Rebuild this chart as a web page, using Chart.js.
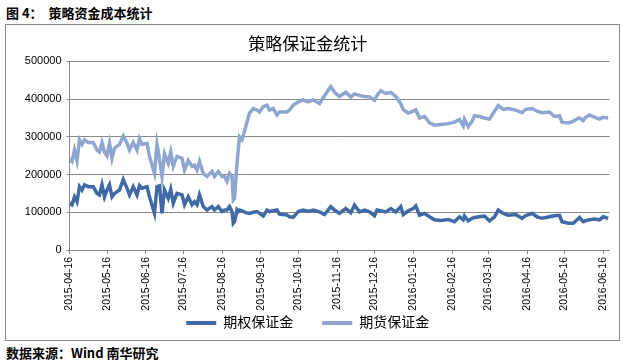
<!DOCTYPE html>
<html>
<head>
<meta charset="utf-8">
<script src="https://cdn.jsdelivr.net/npm/chart.js@4.4.1/dist/chart.umd.min.js"></script>
<style>
  body { margin: 0; background: #fff; width: 623px; height: 362px; position: relative; overflow: hidden; }
  .cap { position: absolute; left: 6px; font: bold 13px "Noto Sans CJK SC", sans-serif; color: #000; }
  #box { position: absolute; left: 5px; top: 24px; width: 613px; height: 315px; border: 1px solid #888; }
  canvas { display: block; }
</style>
</head>
<body>
<div class="cap" style="top:3px">图 4：&nbsp;&nbsp;策略资金成本统计</div>
<div id="box"><canvas id="chart" width="613" height="315"></canvas></div>
<div class="cap" style="top:343px">数据来源：Wind 南华研究</div>
<script>
// day offsets from 2015-04-16
var dayOffsets = [0,2,4,6,8,10,12,15,19,22,24,26,28,30,32,34,36,40,43,46,48,51,54,56,58,62,64,68,70,72,74,76,79,81,83,86,90,92,95,98,100,102,104,107,110,114,116,119,122,124,126,128,130,131,132,134,135,136,138,141,144,147,150,152,155,158,160,163,166,168,174,176,179,183,187,191,195,200,204,209,212,216,221,225,228,232,236,240,244,246,249,253,257,261,265,267,271,275,277,280,284,288,292,297,303,308,312,315,316,319,322,324,328,332,336,340,343,347,351,357,362,365,370,374,378,384,388,392,394,399,403,405,408,411,413,416,420,424,427,431];

var optionMargin = [124000,120000,141000,128000,168000,159000,173000,168000,168000,150000,146000,173000,141000,159000,173000,141000,150000,159000,187000,164000,146000,168000,146000,171000,164000,168000,141000,97000,168000,170000,97000,159000,137000,161000,124000,150000,146000,120000,141000,120000,128000,120000,146000,115000,106000,115000,106000,115000,102000,106000,106000,115000,102000,71000,75000,106000,102000,106000,104000,99000,97000,100000,102000,97000,90000,106000,102000,104000,106000,95000,93000,88000,87000,102000,106000,102000,106000,101000,94000,115000,106000,97000,110000,99000,119000,101000,106000,101000,91000,106000,104000,101000,110000,101000,115000,94000,104000,110000,117000,92000,97000,88000,80000,78000,81000,75000,88000,80000,90000,77000,84000,86000,88000,90000,77000,88000,106000,97000,92000,94000,84000,91000,97000,88000,84000,88000,91000,92000,75000,71000,71000,77000,86000,75000,78000,80000,82000,80000,88000,84000];

var futuresMargin = [243000,235000,265000,237000,292000,280000,292000,285000,285000,265000,260000,285000,260000,250000,283000,243000,270000,280000,302000,283000,265000,285000,265000,295000,280000,283000,248000,203000,280000,240000,195000,255000,230000,260000,222000,248000,243000,212000,237000,222000,225000,212000,235000,203000,195000,208000,195000,208000,195000,195000,182000,203000,195000,133000,137000,230000,265000,300000,292000,327000,363000,375000,371000,366000,380000,384000,371000,375000,358000,366000,366000,371000,384000,393000,398000,393000,398000,388000,409000,433000,418000,407000,418000,406000,414000,410000,407000,406000,397000,410000,422000,415000,418000,407000,388000,372000,363000,368000,372000,350000,354000,337000,331000,333000,335000,339000,346000,329000,347000,327000,341000,356000,354000,350000,347000,368000,383000,373000,375000,371000,364000,373000,375000,368000,364000,366000,354000,356000,339000,337000,341000,346000,350000,343000,352000,358000,352000,347000,352000,350000];

var tickLabels = ['2015-04-16','2015-05-16','2015-06-16','2015-07-16','2015-08-16','2015-09-16','2015-10-16','2015-11-16','2015-12-16','2016-01-16','2016-02-16','2016-03-16','2016-04-16','2016-05-16','2016-06-16'];

var seriesNames = ['期权保证金', '期货保证金'];

var base = Date.UTC(2015, 3, 16);
function toOffset(s) {
  var p = s.split('-');
  return Math.round((Date.UTC(+p[0], +p[1] - 1, +p[2]) - base) / 86400000);
}
var tickOffsets = tickLabels.map(toOffset);

function pts(vals) {
  return dayOffsets.map(function (d, i) { return { x: d, y: vals[i] }; });
}

var cjk = '"Liberation Sans", "Noto Sans CJK SC", sans-serif';

var ctx = document.getElementById('chart').getContext('2d');
var myChart = new Chart(ctx, {
  type: 'line',
  data: {
    datasets: [{
      label: seriesNames[0],
      data: pts(optionMargin),
      borderColor: '#3f6aa5',
      backgroundColor: '#3f6aa5',
      borderWidth: 3.5,
      pointRadius: 0,
      tension: 0
    }, {
      label: seriesNames[1],
      data: pts(futuresMargin),
      borderColor: '#8ea6d0',
      backgroundColor: '#8ea6d0',
      borderWidth: 3.5,
      pointRadius: 0,
      tension: 0
    }]
  },
  options: {
    responsive: false,
    animation: false,
    devicePixelRatio: 1,
    layout: { padding: { left: 0, right: 9.5, top: 0, bottom: 0 } },
    plugins: {
      title: {
        display: true,
        text: '策略保证金统计',
        color: '#000',
        font: { family: cjk, size: 17, weight: 'normal' },
        padding: { top: 10, bottom: 6 }
      },
      legend: {
        position: 'bottom',
        labels: {
          color: '#000',
          font: { family: cjk, size: 14 },
          boxWidth: 30,
          boxHeight: 4,
          padding: 29,
          generateLabels: function (chart) {
            var items = Chart.defaults.plugins.legend.labels.generateLabels(chart);
            items.forEach(function (it) { it.lineWidth = 0; it.fillStyle = it.strokeStyle; });
            return items;
          }
        }
      },
      tooltip: { enabled: false }
    },
    scales: {
      x: {
        type: 'linear',
        min: 0,
        max: 432,
        afterBuildTicks: function (scale) {
          scale.ticks = tickOffsets.map(function (v) { return { value: v }; });
        },
        afterFit: function (scale) {
          scale.height = 37;
          // let the rotated date labels run past the short axis box
          scale._computeLabelArea = function () { return undefined; };
        },
        ticks: {
          autoSkip: false,
          minRotation: 90,
          maxRotation: 90,
          padding: 3,
          color: '#000',
          font: { family: cjk, size: 10.5 },
          callback: function (v) { return tickLabels[tickOffsets.indexOf(v)]; }
        },
        grid: { drawOnChartArea: false, drawTicks: true, tickLength: 4, color: '#888' },
        border: { color: '#888', width: 1 }
      },
      y: {
        min: 0,
        max: 500000,
        afterFit: function (scale) { scale.width = 63.5; },
        ticks: {
          stepSize: 100000,
          padding: 5,
          color: '#000',
          font: { family: cjk, size: 11 },
          callback: function (v) { return String(v); }
        },
        grid: { color: '#888', borderDash: [4, 3], tickLength: 3, tickBorderDash: [], tickColor: '#888' },
        border: { color: '#888', width: 1 }
      }
    }
  }
});
</script>
</body>
</html>
